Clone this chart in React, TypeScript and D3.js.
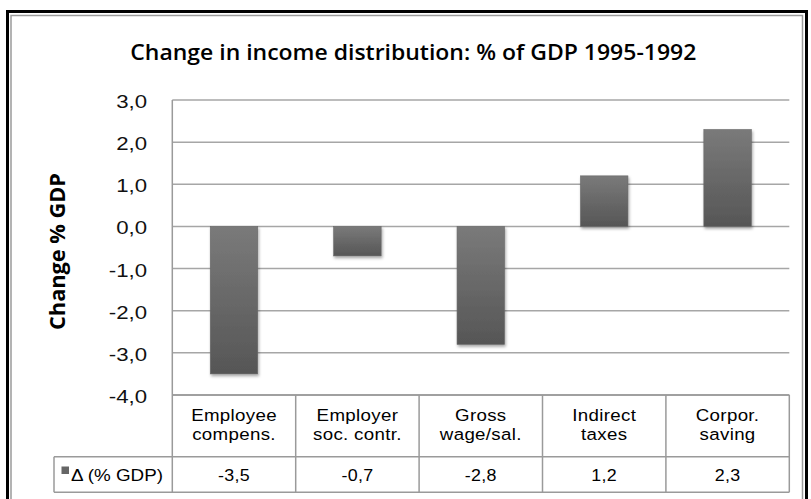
import React from "react";
import * as d3 from "d3";

const categories = [
  "Employee\ncompens.",
  "Employer\nsoc. contr.",
  "Gross\nwage/sal.",
  "Indirect\ntaxes",
  "Corpor.\nsaving",
];
const values = [-3.5, -0.7, -2.8, 1.2, 2.3];
const yTicks = [3, 2, 1, 0, -1, -2, -3, -4];
const seriesName = "Δ (% GDP)";
const title = "Change in income distribution: % of GDP 1995-1992";
const yTitle = "Change % GDP";

const W = 811;
const H = 499;
const FONT = "'Open Sans', 'Liberation Sans', sans-serif";
const TABLE_FONT = "'Liberation Sans', Arial, sans-serif";

const locale = d3.formatLocale({
  decimal: ",",
  thousands: ".",
  grouping: [3],
  currency: ["", ""],
  minus: "-",
});
const fmt = locale.format(".1f");

export default function App() {
  const plotLeft = 172.3;
  const plotRight = 789.3;
  const plotTop = 100;
  const plotBottom = 395;
  const rowSep = 456.7;
  const tableBottom = 492.3;
  const legendLeft = 54;

  const y = d3.scaleLinear().domain([-4, 3]).range([plotBottom, plotTop]);
  const x = d3
    .scaleBand<string>()
    .domain(categories)
    .range([plotLeft, plotRight])
    .paddingInner(0)
    .paddingOuter(0);
  const barW = x.bandwidth() * 0.385;

  const gridColor = "#a6a6a6";
  const tableColor = "#9a9a9a";
  const sx = 1.1;

  return (
    <svg
      width={W}
      height={H}
      style={{ position: "absolute", left: 0, top: 0, background: "#fff" }}
      fontFamily={FONT}
    >
      <defs>
        <linearGradient id="barGrad" x1="0" y1="0" x2="0" y2="1">
          <stop offset="0%" stopColor="#7a7a7a" />
          <stop offset="100%" stopColor="#565656" />
        </linearGradient>
        <filter id="shadow" x="-20%" y="-20%" width="140%" height="140%">
          <feDropShadow dx="1" dy="2" stdDeviation="1.8" floodColor="#000" floodOpacity="0.35" />
        </filter>
      </defs>

      {/* frame */}
      <rect x={7.5} y={11.5} width={799} height={H} fill="none" stroke="#000" strokeWidth={3} />
      <rect x={11} y={15.5} width={791.5} height={H} fill="none" stroke="#9a9a9a" strokeWidth={1.5} />

      {/* title */}
      <text
        x={413.3}
        y={60}
        textAnchor="middle"
        fontSize={22}
        fontWeight={600}
        fill="#000"
        textLength={566}
        lengthAdjust="spacingAndGlyphs"
      >
        {title}
      </text>

      {/* y axis title */}
      <text
        transform={`translate(65, 251.5) rotate(-90)`}
        textAnchor="middle"
        fontSize={22}
        fontWeight={700}
        fill="#000"
        textLength={157}
        lengthAdjust="spacingAndGlyphs"
      >
        {yTitle}
      </text>

      {/* gridlines */}
      {yTicks.map((t) => (
        <line
          key={"g" + t}
          x1={plotLeft}
          x2={plotRight}
          y1={y(t)}
          y2={y(t)}
          stroke={t === -4 ? tableColor : gridColor}
          strokeWidth={1.5}
        />
      ))}

      {/* y tick labels */}
      {yTicks.map((t) => (
        <text
          key={"t" + t}
          transform={`translate(147, ${y(t) + 8}) scale(1.17, 1)`}
          textAnchor="end"
          fontSize={19}
          fontFamily={TABLE_FONT}
          fill="#111"
        >
          {fmt(t)}
        </text>
      ))}

      {/* bars */}
      {categories.map((c, i) => {
        const v = values[i];
        const cx = (x(c) as number) + x.bandwidth() / 2;
        const y0 = y(0);
        const y1 = y(v);
        return (
          <rect
            key={"b" + i}
            x={cx - barW / 2}
            y={Math.min(y0, y1)}
            width={barW}
            height={Math.abs(y1 - y0)}
            fill="url(#barGrad)"
            stroke="#6a6a6a"
            strokeWidth={0.6}
            filter="url(#shadow)"
          />
        );
      })}

      {/* y axis line */}
      <line x1={plotLeft} x2={plotLeft} y1={plotTop} y2={tableBottom} stroke={tableColor} strokeWidth={1.5} />

      {/* data table */}
      <line x1={plotLeft} x2={plotRight} y1={plotBottom} y2={plotBottom} stroke={tableColor} strokeWidth={1.5} />
      <line x1={legendLeft} x2={plotRight} y1={rowSep} y2={rowSep} stroke={tableColor} strokeWidth={1.5} />
      <line x1={legendLeft} x2={plotRight} y1={tableBottom} y2={tableBottom} stroke={tableColor} strokeWidth={1.5} />
      <line x1={legendLeft} x2={legendLeft} y1={rowSep} y2={tableBottom} stroke={tableColor} strokeWidth={1.5} />
      {categories.map((c, i) => (
        <line
          key={"v" + i}
          x1={(x(c) as number) + x.bandwidth()}
          x2={(x(c) as number) + x.bandwidth()}
          y1={plotBottom}
          y2={tableBottom}
          stroke={tableColor}
          strokeWidth={1.5}
        />
      ))}

      {/* category labels */}
      {categories.map((c, i) => {
        const cx = (x(c) as number) + x.bandwidth() / 2;
        const lines = c.split("\n");
        return lines.map((ln, j) => (
          <text
            key={"c" + i + "-" + j}
            transform={`translate(${cx}, ${420.5 + j * 19.5}) scale(${sx}, 1)`}
            textAnchor="middle"
            fontSize={17}
            letterSpacing={0.3}
            fontFamily={TABLE_FONT}
            fill="#000"
          >
            {ln}
          </text>
        ));
      })}

      {/* values row */}
      {categories.map((c, i) => {
        const cx = (x(c) as number) + x.bandwidth() / 2;
        return (
          <text
            key={"val" + i}
            transform={`translate(${cx}, 480.5) scale(1.05, 1)`}
            textAnchor="middle"
            fontSize={17}
            letterSpacing={0.3}
            fontFamily={TABLE_FONT}
            fill="#000"
          >
            {fmt(values[i])}
          </text>
        );
      })}

      {/* legend cell */}
      <rect x={61.5} y={466.5} width={7.5} height={7.5} fill="#666" />
      <text
        x={71}
        y={480.5}
        fontSize={17}
        fontFamily={TABLE_FONT}
        fill="#000"
        textLength={92}
        lengthAdjust="spacingAndGlyphs"
      >
        {seriesName}
      </text>
    </svg>
  );
}
